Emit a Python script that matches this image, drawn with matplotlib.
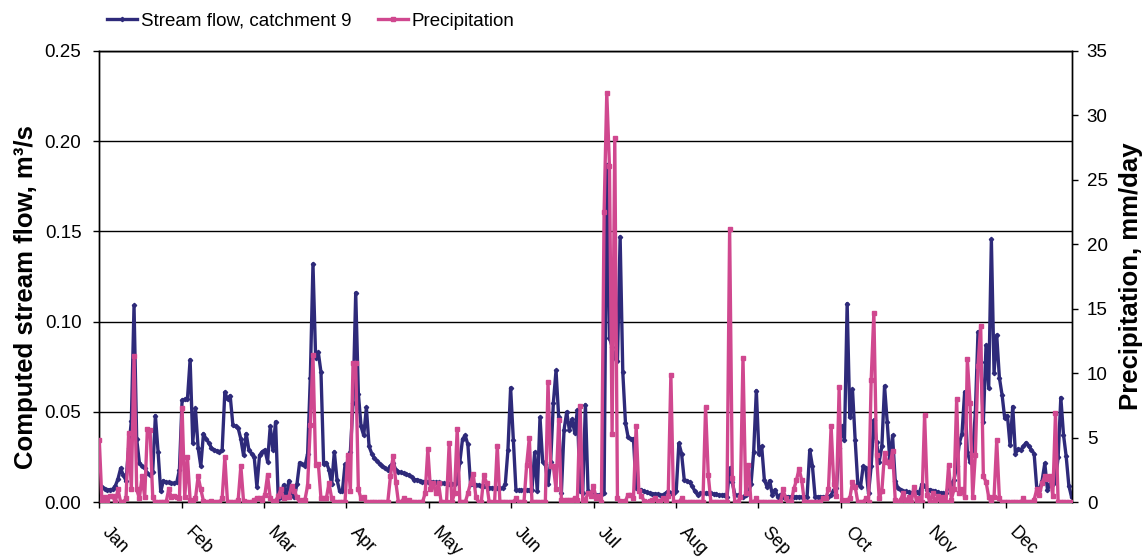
import matplotlib
matplotlib.use('Agg')
import matplotlib.pyplot as plt
from matplotlib.lines import Line2D
from matplotlib.ticker import FormatStrFormatter, NullFormatter
import numpy as np

plt.rcParams['font.family'] = ['Liberation Sans', 'DejaVu Sans']

months = ['Jan', 'Feb', 'Mar', 'Apr', 'May', 'Jun', 'Jul', 'Aug', 'Sep', 'Oct', 'Nov', 'Dec']

# Computed stream flow, catchment 9 (m3/s), daily values by month
flow_jan = [.0095, .0085, .0075, .007, .007, .0072, .009, .013, .0188, .015, .012, .030, .045, .109, .035, .022,
            .020, .019, .016, .015, .017, .048, .028, .006, .012, .011, .011, .0105, .0105, .011, .018]
flow_feb = [.0566, .057, .057, .079, .033, .052, .030, .020, .038, .035, .033, .030, .029, .0285, .028, .029,
            .061, .057, .059, .043, .042, .041, .035, .026, .038, .029, .027, .025]
flow_mar = [.0086, .026, .028, .029, .0225, .042, .029, .0446, .002, .003, .0096, .003, .012, .005, .003, .010,
            .022, .021, .020, .027, .0686, .132, .080, .083, .072, .021, .022, .018, .010, .028, .0125]
flow_apr = [.006, .006, .021, .022, .028, .055, .116, .060, .042, .037, .0525, .031, .027, .0245, .023, .021,
            .020, .019, .018, .020, .022, .018, .017, .0165, .016, .0155, .015, .014, .0125, .0125]
flow_may = [.012, .0115, .0115, .0115, .0115, .011, .011, .011, .0105, .0105, .010, .010, .010, .010, .012, .0225,
            .035, .037, .032, .010, .010, .0095, .0095, .009, .009, .0086, .008, .008, .0077, .0077, .0077]
flow_jun = [.0077, .010, .029, .0634, .0345, .0068, .0066, .0066, .0066, .0066, .007, .007, .0276, .006, .047,
            .0225, .021, .010, .0225, .055, .073, .047, .005, .040, .050, .040, .046, .0385, .051, .006]
flow_jul = [.005, .054, .006, .005, .004, .004, .004, .004, .005, .187, .091, .086, .080, .078, .147, .072,
            .044, .036, .035, .035, .0077, .007, .0068, .006, .0055, .005, .0048, .0046, .0045, .004, .004]
flow_aug = [.005, .006, .005, .005, .006, .0327, .027, .0125, .012, .011, .009, .006, .0042, .005, .005, .005,
            .005, .005, .0045, .0045, .004, .004, .004, .003, .0188, .011, .004, .004, .003, .003, .004]
flow_sep = [.005, .010, .028, .0618, .0265, .031, .0125, .0085, .012, .004, .007, .003, .004, .003, .003, .003,
            .003, .003, .003, .003, .003, .003, .003, .029, .020, .003, .003, .003, .003, .003]
flow_oct = [.003, .004, .007, .0077, .030, .042, .0345, .110, .047, .0625, .0345, .010, .0085, .020, .019, .005,
            .020, .0455, .0335, .0225, .031, .0644, .0445, .0225, .037, .012, .0077, .007, .006, .006, .0055]
flow_nov = [.005, .0055, .0055, .005, .010, .009, .007, .007, .0065, .006, .0055, .005, .005, .005, .009, .010,
            .0125, .020, .0327, .038, .0612, .028, .0225, .027, .050, .0944, .0775, .0445, .087, .063]
flow_dec = [.1456, .0716, .0926, .069, .0595, .0465, .048, .0315, .053, .027, .0295, .029, .031, .033, .031, .029,
            .027, .0077, .007, .012, .0216, .007, .010, .010, .012, .025, .058, .0375, .0255, .0093, .003]

# Precipitation (mm/day), daily values by month
rain_jan = [4.8, 0, 0.4, 0.2, 0.5, 0.5, 0, 1.0, 0, 0, 0.3, 5.4, 1.0, 11.3, 1.0, 0.3, 2.0, 0.4, 5.7, 5.6, 0.4,
            0, 0, 0, 0, 0, 1.0, 0.4, 0.5, 0.4, 0.3]
rain_feb = [7.3, 0.4, 3.5, 0.2, 0, 0.3, 2.0, 1.0, 0.1, 0, 0, 0.1, 0, 0, 0, 0.3, 3.5, 0, 0, 0, 0, 0.2, 2.8, 0.1,
            0, 0, 0, 0.2]
rain_mar = [0.3, 0.3, 0.2, 0.6, 2.1, 0.3, 0.1, 0.1, 0.5, 1.0, 0.3, 0.4, 0.4, 1.3, 0.9, 0.4, 0, 0.2, 0.2, 1.3,
            6.0, 11.4, 2.9, 3.0, 0.3, 0.3, 0.3, 1.5, 0.3, 0, 0]
rain_apr = [0, 0, 0, 3.7, 0.9, 10.8, 10.8, 1.0, 0.3, 0.4, 0, 0, 0, 0, 0, 0, 0, 0, 0, 2.0, 3.6, 1.6, 0, 0, 0.3,
            0, 0.2, 0, 0, 0]
rain_may = [0, 0, 0.7, 4.1, 1.0, 1.5, 0.7, 1.5, 0, 0, 0, 4.6, 0, 0.7, 5.7, 0, 0, 0, 0.7, 1.5, 2.2, 0.4, 0, 0,
            2.1, 1.5, 0, 0, 0, 4.4, 0]
rain_jun = [0, 0, 0, 0, 0, 0.3, 0, 0, 0, 2.9, 5.0, 0, 0, 0, 0, 0, 0, 9.3, 2.8, 2.8, 1.0, 6.4, 0.2, 0.2, 0.2,
            0.2, 0.2, 0.3, 0.2, 7.5]
rain_jul = [0.2, 0.2, 0.7, 0.5, 1.3, 0.3, 0.5, 0, 22.5, 31.7, 26.1, 5.3, 28.2, 0.3, 0.1, 0, 0.1, 0.6, 0.6, 0.3,
            5.9, 0.9, 0.5, 0.1, 0, 0.1, 0.2, 0.3, 0.1, 0.1, 0.3]
rain_aug = [0.1, 0.5, 9.9, 0, 0, 0, 0.3, 0, 0, 0, 0, 0, 0, 0, 0, 7.4, 2.1, 0, 0, 0, 0, 0, 0, 0, 21.2, 1.9, 0,
            0, 0.4, 11.2, 0.7]
rain_sep = [2.9, 0, 0, 0.3, 0, 0, 0, 0, 0, 0, 0, 0, 0, 1.0, 0.3, 0, 0, 1.0, 1.7, 2.6, 1.7, 0, 0, 0, 0, 0, 0,
            0, 0.3, 0.3]
rain_oct = [1.0, 5.9, 1.4, 0.5, 8.9, 0.2, 0, 0.2, 0.3, 1.6, 1.2, 0, 0, 0, 0.3, 0, 9.5, 14.7, 3.7, 0.3, 0.9,
            3.8, 3.1, 2.8, 4.0, 0.2, 0, 0.2, 0.7, 0, 0.4]
rain_nov = [0, 1.2, 0, 0.3, 0, 6.8, 0.6, 0, 0.7, 0, 0.5, 0, 0.4, 0, 2.9, 0.2, 1.0, 8.0, 0.7, 1.0, 0.4, 11.1,
            7.7, 0.4, 3.7, 10.6, 13.7, 2.0, 1.6, 0.4]
rain_dec = [0, 0.4, 4.8, 0.3, 0, 0, 0, 0, 0, 0, 0, 0, 0.3, 0, 0, 0, 0.2, 1.0, 0.6, 1.5, 2.0, 1.8, 2.0, 0.5,
            6.9, 0, 0, 0, 0, 0, 0]

flow = (flow_jan + flow_feb + flow_mar + flow_apr + flow_may + flow_jun +
        flow_jul + flow_aug + flow_sep + flow_oct + flow_nov + flow_dec)
rain = (rain_jan + rain_feb + rain_mar + rain_apr + rain_may + rain_jun +
        rain_jul + rain_aug + rain_sep + rain_oct + rain_nov + rain_dec)

navy = '#2E2A7A'
pink = '#D0488F'

W, H = 1147, 559
fig = plt.figure(figsize=(W / 100, H / 100), dpi=100)
left, right, top, bottom = 99.3, 1071.5, 50.7, 502.3
ax = fig.add_axes([left / W, 1 - bottom / H, (right - left) / W, (bottom - top) / H])

days = np.arange(len(flow))
ax.plot(days, flow, color=navy, lw=2.4, marker='D', ms=2.2, zorder=3)
ax.set_ylim(0, 0.25)
ax.set_yticks(np.arange(0, 0.2501, 0.05))
ax.yaxis.set_major_formatter(FormatStrFormatter('%.2f'))
ax.set_xlim(0, len(flow) - 1)
ax.yaxis.grid(True, color='black', lw=1.0)
ax.set_axisbelow(True)

ax2 = ax.twinx()
ax2.plot(days, rain, color=pink, lw=2.4, marker='s', ms=2.4, zorder=3)
ax2.set_ylim(0, 35)
ax2.set_yticks(range(0, 36, 5))

px_per_day = (right - left) / (len(flow) - 1)
step = 30.85
major = np.arange(len(months)) * step
ax.set_xticks(major)
ax.xaxis.set_major_formatter(NullFormatter())
ax.set_xticks(major + 12.0 / px_per_day, minor=True)
ax.set_xticklabels(months, minor=True, rotation=-45, ha='left', va='top',
                   rotation_mode='anchor', fontsize=13)

ax.tick_params(axis='x', which='major', direction='out', length=4.3, width=1)
ax.tick_params(axis='x', which='minor', length=0, pad=15.5)
ax.tick_params(axis='y', direction='out', length=4.3, width=1, pad=8.6, labelsize=13.5)
ax2.tick_params(axis='y', direction='out', length=4.3, width=1, pad=6.7, labelsize=13.5)

for a in (ax, ax2):
    for s in a.spines.values():
        s.set_color('black')
        s.set_linewidth(1.0)

ax.set_ylabel('Computed stream flow, m³/s', fontsize=18.5, fontweight='bold')
ax.yaxis.set_label_coords((37.5 - left) / (right - left), (bottom - 297) / (bottom - top))
ax2.set_ylabel('Precipitation, mm/day', fontsize=18.5, fontweight='bold', rotation=90)
ax2.yaxis.set_label_coords((1119 - left) / (right - left), 0.5)

handles = [Line2D([], [], color=navy, lw=2.4, marker='D', ms=2.2),
           Line2D([], [], color=pink, lw=2.4, marker='s', ms=2.4)]
fig.legend(handles, ['Stream flow, catchment 9', 'Precipitation'], loc='center left',
           bbox_to_anchor=(107 / W, 1 - 21 / H), ncol=2, frameon=False, fontsize=13.5,
           handlelength=1.6, handletextpad=0.2, columnspacing=1.4, borderaxespad=0, borderpad=0)

fig.savefig('out.png', dpi=100)
